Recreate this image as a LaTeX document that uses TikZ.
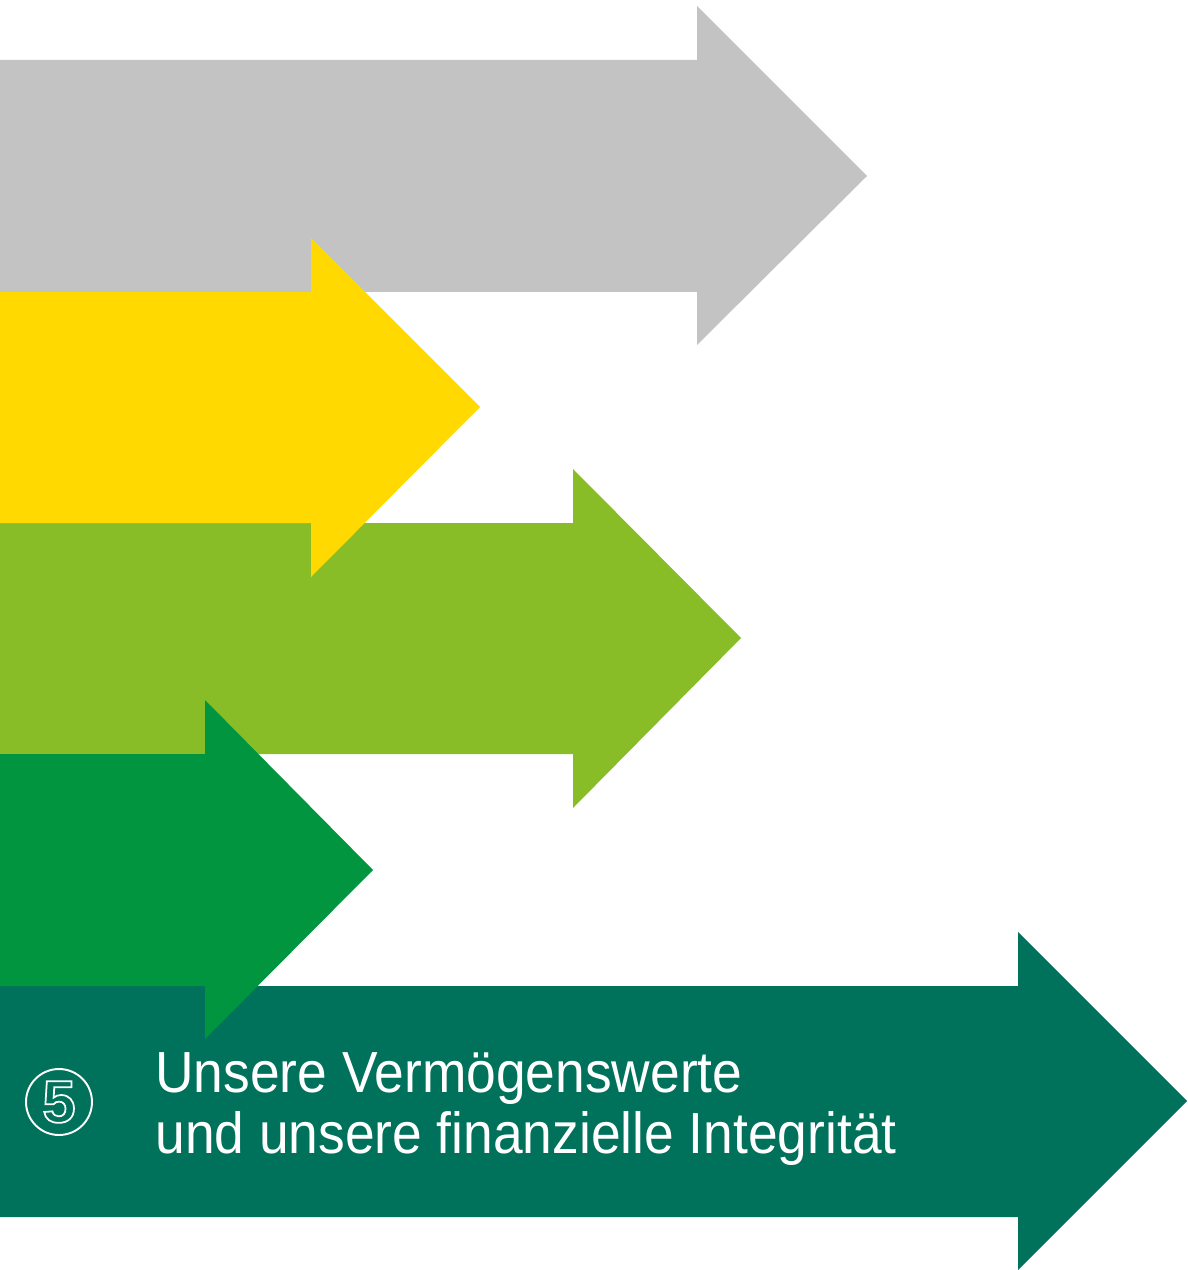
\documentclass[tikz,border=0pt]{standalone}
\usepackage{fontspec}
\setmainfont{Liberation Sans}
\newfontfamily\labelfont[FakeStretch=0.92]{Liberation Sans}
\definecolor{Gray}{RGB}{195,195,195}
\definecolor{Yellow}{RGB}{255,217,0}
\definecolor{LightGreen}{RGB}{137,189,39}
\definecolor{Green}{RGB}{0,149,62}
\definecolor{DarkGreen}{RGB}{0,113,90}
\definecolor{White}{RGB}{255,255,255}
\newcommand{\outlined}[1]{\special{pdf:code q 1 Tr 1 w 1 1 1 RG}#1\special{pdf:code Q}}
\tikzset{
	label text/.style={anchor=base west, inner sep=0pt, text=White, font=\labelfont\fontsize{33}{40}\selectfont},
}

\begin{document}
\begin{tikzpicture}[x=0.02cm, y=-0.02cm]
		
		\useasboundingbox (0,0) rectangle (1187,1270);
		
		% Long arrows
		\fill[Gray] (0,60) -- (697,60) -- (697,6) -- (867,176) -- (697,345) -- (697,292) -- (0,292) -- cycle;
		\fill[LightGreen] (0,523) -- (573,523) -- (573,469) -- (741,638) -- (573,808) -- (573,754) -- (0,754) -- cycle;
		\fill[DarkGreen] (0,986) -- (1018,986) -- (1018,932) -- (1187,1101) -- (1018,1270) -- (1018,1217) -- (0,1217) -- cycle;
		
		% Short arrows
		\fill[Yellow] (0,292) -- (311,292) -- (311,238) -- (480,407) -- (311,577) -- (311,523) -- (0,523) -- cycle;
		\fill[Green] (0,754) -- (205,754) -- (205,700) -- (373,870) -- (205,1039) -- (205,986) -- (0,986) -- cycle;
		
		% Number
		\node[circle, draw=White, line width=1.1pt, minimum size=1.32cm, inner sep=0pt,
			font=\bfseries\fontsize{34}{34}\selectfont, text=White] (num) at (59,1102) {\outlined{5}};
		
		% Text
		\node[label text] (line1) at (155,1092) {Unsere Vermögenswerte};
		\node[label text] (line2) at (155,1153) {und unsere finanzielle Integrität};
		
	\end{tikzpicture}
\end{document}
